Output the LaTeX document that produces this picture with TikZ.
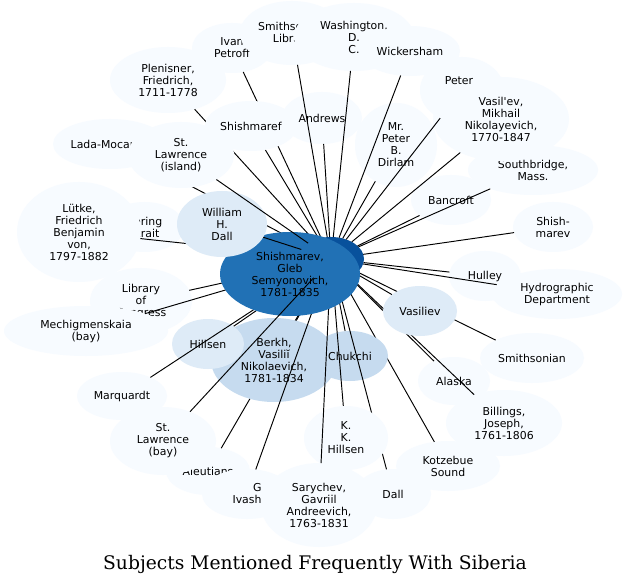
\documentclass[tikz,border=0pt]{standalone}
\usepackage{fontspec}
\newfontfamily\dv{DejaVu Sans}
\newfontfamily\dvs{DejaVu Serif}
\usetikzlibrary{shapes.geometric}
\definecolor{c1}{HTML}{F7FBFF}
\definecolor{c2}{HTML}{DEEBF7}
\definecolor{c3}{HTML}{C6DBEF}
\definecolor{c4}{HTML}{2171B5}
\definecolor{c5}{HTML}{08519C}
\pgfdeclarelayer{l0}
\pgfdeclarelayer{lA}
\pgfdeclarelayer{lE1}
\pgfdeclarelayer{lB}
\pgfdeclarelayer{lE2}
\pgfdeclarelayer{lK}
\pgfdeclarelayer{lE3}
\pgfdeclarelayer{lC}
\pgfdeclarelayer{lE4}
\pgfsetlayers{l0,lA,lE1,lB,lE2,lK,lE3,main,lC,lE4}
\begin{document}
\begin{tikzpicture}[x=1pt,y=-1pt,
  nd/.style={ellipse, inner sep=0pt, outer sep=0pt, align=center, text=black, font=\dv\fontsize{10.9pt}{12pt}\selectfont},
  sz/.style 2 args={minimum width=#1pt, minimum height=#2pt},
  lt/.style={nd, fill=c1},
  lm/.style={nd, fill=c2},
  md/.style={nd, fill=c3},
  ctrst/.style={nd, fill=c4},
  hubst/.style={nd, fill=c5},
  conn/.style={draw=black, line width=0.95pt},
  lbl/.style={inner sep=0pt, text=black, font=\dv\fontsize{10.9pt}{12pt}\selectfont}]
\useasboundingbox (0,0) rectangle (630,583);
\begin{pgfonlayer}{l0}
\fill[white] (0,0) rectangle (630,583);
\node[hubst, sz={66}{44}] (hub) at (331,259) {};
\end{pgfonlayer}
\begin{pgfonlayer}{lA}
\node[lt, sz={80}{50}] (ip) at (232,48) {Ivan\\Petroff};
\node[lt, sz={104}{64}] (sl) at (292,33) {Smithsonian\\Library};
\node[lt, sz={120}{68}] (wash) at (354,37) {Washington,\\D.\\C.};
\node[lt, sz={100}{50}] (wick) at (410,51) {Wickersham};
\node[lt, sz={116}{66}] (plen) at (168,80) {Plenisner,\\Friedrich,\\1711-1778};
\node[lt, sz={84}{66}] (peter) at (462,90) {};
\node[lt, sz={130}{50}] (south) at (533,170) {Southbridge,\\Mass.};
\node[lt, sz={136}{84}] (vasm) at (501,119) {Vasil\textquotesingle ev,\\Mikhail\\Nikolayevich,\\1770-1847};
\node[lbl] (peterlbl) at (459,81) {Peter};
\node[lt, sz={80}{52}] (andr) at (322,118) {Andrews};
\node[lt, sz={82}{84}] (dirl) at (396,145) {Mr.\\Peter\\B.\\Dirlam};
\node[lt, sz={80}{50}] (banc) at (451,200) {Bancroft};
\node[lt, sz={114}{50}] (lada) at (110,144) {Lada-Mocarski};
\node[lt, sz={80}{50}] (bering) at (144.5,227) {Bering\\Strait};
\node[lt, sz={124}{100}] (lutke) at (79,232) {Lütke,\\Friedrich\\Benjamin\\von,\\1797-1882};
\node[lt, sz={80}{50}] (shm2) at (553,227) {Shish-\\marev};
\node[lt, sz={72}{50}] (hull) at (485,276) {Hulley};
\node[lt, sz={130}{50}] (hydro) at (557,294) {Hydrographic\\Department};
\node[lt, sz={102}{66}] (loc) at (141,301) {Library\\of\\Congress};
\node[lt, sz={164}{50}] (mech) at (86,331) {Mechigmenskaia\\(bay)};
\node[lt, sz={104}{50}] (smiths) at (532,358) {Smithsonian};
\node[lt, sz={72}{48}] (alaska) at (454,381) {Alaska};
\node[lt, sz={90}{48}] (marq) at (122,396) {Marquardt};
\node[lt, sz={116}{66}] (bill) at (504,423) {Billings,\\Joseph,\\1761-1806};
\node[lt, sz={84}{48}] (aleut) at (208,471) {Aleutians};
\node[lt, sz={104}{50}] (kotz) at (448,466) {Kotzebue\\Sound};
\node[lt, sz={90}{50}, align=right] (ivash) at (247,494) {G\\Ivash};
\node[lt, sz={116}{84}] (sary) at (319,505) {Sarychev,\\Gavriil\\Andreevich,\\1763-1831};
\node[lt, sz={76}{50}] (dall) at (393,494) {Dall};
\node[lt, sz={106}{68}] (stlb) at (163,441) {St.\\Lawrence\\(bay)};
\end{pgfonlayer}
\begin{pgfonlayer}{lB}
\node[md, sz={126}{84}] (berkh) at (274,360) {Berkh,\\Vasiliĭ\\Nikolaevich,\\1781-1834};
\node[md, sz={76}{50}] (chuk) at (350,356) {Chukchi};
\node[lm, sz={72}{50}] (hills) at (208,344) {Hillsen};
\node[lm, sz={74}{50}] (vasv) at (420,311) {Vasiliev};
\end{pgfonlayer}
\begin{pgfonlayer}{lK}
\node[lt, sz={84}{64}] (kk) at (346,438) {K.\\K.\\Hillsen};
\node[lt, sz={92}{50}] (shref) at (251,126) {Shishmaref};
\node[lt, sz={106}{66}] (stli) at (181,155) {St.\\Lawrence\\(island)};
\end{pgfonlayer}
\node[ctrst, sz={140}{84}] (shv) at (290,274) {Shishmarev,\\Gleb\\Semyonovich,\\1781-1835};
\begin{pgfonlayer}{lC}
\node[lm, sz={90}{66}] (whd) at (222,224) {William\\H.\\Dall};
\end{pgfonlayer}
\node[font=\dvs\fontsize{18.7pt}{22pt}\selectfont, anchor=base, inner sep=0pt, text=black] (title) at (315,569) {Subjects Mentioned Frequently With Siberia};
\begin{pgfonlayer}{lE1}
\foreach \n in {ip,sl,wash,wick,plen,peter,south,vasm,andr,dirl,banc,lada,bering,lutke,shm2,hull,hydro,loc,mech,smiths,alaska,bill,aleut,kotz,berkh,chuk,hills,vasv,shref}
  \draw[conn] (hub) -- (\n);
\end{pgfonlayer}
\begin{pgfonlayer}{lE2}
\draw[conn] (hub) -- (dall);
\draw[conn] (hub) -- (kk);
\end{pgfonlayer}
\begin{pgfonlayer}{lE3}
\draw[conn] (hub) -- (ivash);
\draw[conn] (hub) -- (sary);
\draw[conn] (hub) -- (marq);
\end{pgfonlayer}
\begin{pgfonlayer}{lE4}
\draw[conn] (hub) -- (stli);
\draw[conn] (hub) -- (whd);
\draw[conn] (hub) -- (stlb);
\end{pgfonlayer}
\end{tikzpicture}
\end{document}
